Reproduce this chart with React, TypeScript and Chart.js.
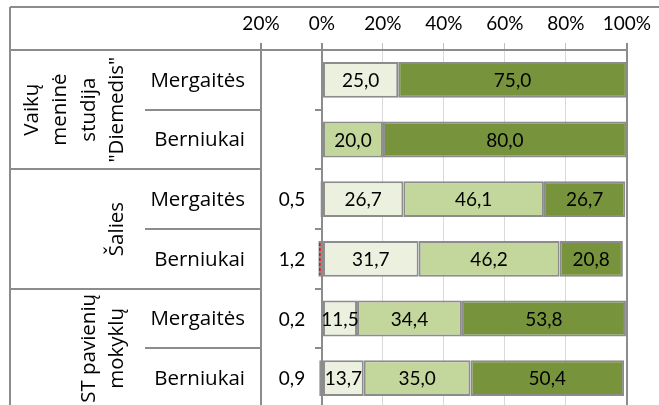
import React, { useEffect, useRef } from "react";
import { Chart, registerables } from "chart.js";

Chart.register(...registerables);

const categories = ["Mergaitės", "Berniukai", "Mergaitės", "Berniukai", "Mergaitės", "Berniukai"];
const groupLabels: string[][] = [
  ["Vaikų", "meninė", "studija", "\"Diemedis\""],
  ["Šalies"],
  ["ST pavienių", "mokyklų"],
];
const groupSizes = [2, 2, 2];

const negativeValues = [0, 0, -0.5, -1.2, -0.2, -0.9];
const lightValues = [25.0, 0, 26.7, 31.7, 11.5, 13.7];
const mediumValues = [0, 20.0, 46.1, 46.2, 34.4, 35.0];
const darkValues = [75.0, 80.0, 26.7, 20.8, 53.8, 50.4];

const xTicks = [-20, 0, 20, 40, 60, 80, 100];

const NUM_FONT = "Lato, 'Open Sans', sans-serif";
const NUM_FS = 19;
const WORD_FONT = "'Open Sans', Lato, sans-serif";
const WORD_FS = 20.5;
const GRAY = "#8c8c8c";

const fmt = (v: number) => Math.abs(v).toFixed(1).replace(".", ",");

const tablePlugin = {
  id: "tablePlugin",
  afterDatasetsDraw(chart: any) {
    const ctx = chart.ctx;
    // red dashed marks inside negative bars
    const meta = chart.getDatasetMeta(0);
    meta.data.forEach((bar: any) => {
      const w = Math.abs(bar.x - bar.base);
      if (w < 2) return;
      const left = Math.min(bar.x, bar.base) + 1.5;
      const top = bar.y - bar.height / 2 + 2;
      const bottom = bar.y + bar.height / 2 - 2;
      ctx.save();
      ctx.strokeStyle = "#ff0000";
      ctx.lineWidth = 1.5;
      ctx.setLineDash([3, 2]);
      ctx.beginPath();
      ctx.moveTo(left, top);
      ctx.lineTo(left, bottom);
      ctx.stroke();
      ctx.restore();
    });
    // value labels inside bars
    ctx.save();
    ctx.font = `${NUM_FS}px ${NUM_FONT}`;
    ctx.fillStyle = "#000";
    ctx.textAlign = "center";
    ctx.textBaseline = "middle";
    for (let d = 1; d < chart.data.datasets.length; d++) {
      const m = chart.getDatasetMeta(d);
      const vals = chart.data.datasets[d].data as number[];
      m.data.forEach((bar: any, i: number) => {
        const v = vals[i];
        if (!v) return;
        ctx.fillText(fmt(v), (bar.x + bar.base) / 2, bar.y + 1);
      });
    }
    ctx.restore();
  },
  afterDraw(chart: any) {
    const ctx = chart.ctx;
    const xs = chart.scales.x;
    const ys = chart.scales.y;
    const area = chart.chartArea;
    const leftX = 10;
    const tableRight = xs.getPixelForValue(-20);
    const zeroX = xs.getPixelForValue(0);
    const n = categories.length;
    const step = (area.bottom - area.top) / n;
    const bound = (i: number) => area.top + step * i;

    ctx.save();
    ctx.strokeStyle = GRAY;
    ctx.lineWidth = 2;
    ctx.beginPath();
    ctx.moveTo(leftX, 7);
    ctx.lineTo(chart.width, 7);
    ctx.moveTo(leftX, 7);
    ctx.lineTo(leftX, chart.height);
    ctx.moveTo(leftX, area.top);
    ctx.lineTo(tableRight, area.top);
    let idx = 0;
    groupSizes.forEach((gs, g) => {
      for (let k = 1; k < gs; k++) {
        const y = Math.round(bound(idx + k));
        ctx.moveTo(145, y);
        ctx.lineTo(tableRight, y);
      }
      idx += gs;
      if (g < groupSizes.length - 1) {
        const y = Math.round(bound(idx));
        ctx.moveTo(leftX, y);
        ctx.lineTo(tableRight, y);
      }
    });
    ctx.stroke();

    ctx.beginPath();
    for (let i = 1; i <= n; i++) {
      const y = Math.round(bound(i));
      ctx.moveTo(zeroX - 7, y);
      ctx.lineTo(zeroX, y);
    }
    ctx.stroke();
    ctx.restore();

    // category labels
    ctx.save();
    ctx.font = `${WORD_FS}px ${WORD_FONT}`;
    ctx.fillStyle = "#000";
    ctx.textAlign = "right";
    ctx.textBaseline = "middle";
    categories.forEach((c, i) => {
      ctx.fillText(c, 245, ys.getPixelForValue(i) + 1);
    });
    ctx.font = `${NUM_FS}px ${NUM_FONT}`;
    negativeValues.forEach((v, i) => {
      if (!v) return;
      ctx.fillText(fmt(v), xs.getPixelForValue(-5.5), ys.getPixelForValue(i) + 1);
    });
    ctx.restore();

    // group labels rotated
    ctx.save();
    ctx.font = `${WORD_FS}px ${WORD_FONT}`;
    ctx.fillStyle = "#000";
    ctx.textAlign = "center";
    ctx.textBaseline = "alphabetic";
    let start = 0;
    groupLabels.forEach((lines, g) => {
      const cy = (bound(start) + bound(start + groupSizes[g])) / 2;
      lines.forEach((line, li) => {
        const bx = 123 - (lines.length - 1 - li) * 28.5;
        ctx.save();
        ctx.translate(bx, cy);
        ctx.rotate(-Math.PI / 2);
        ctx.fillText(line, 0, 0);
        ctx.restore();
      });
      start += groupSizes[g];
    });
    ctx.restore();
  },
};

export default function App() {
  const ref = useRef<HTMLCanvasElement | null>(null);

  useEffect(() => {
    if (!ref.current) return;
    const barCommon = {
      borderColor: GRAY,
      borderWidth: 2,
      borderSkipped: false as const,
      barPercentage: 0.6,
      categoryPercentage: 1.0,
    };
    const chart = new Chart(ref.current, {
      type: "bar",
      data: {
        labels: categories,
        datasets: [
          { label: "neg", data: negativeValues, backgroundColor: "#ffffff", ...barCommon },
          { label: "light", data: lightValues, backgroundColor: "#EBF1DE", ...barCommon },
          { label: "medium", data: mediumValues, backgroundColor: "#C3D69B", ...barCommon },
          { label: "dark", data: darkValues, backgroundColor: "#77933C", ...barCommon },
        ],
      },
      options: {
        indexAxis: "y",
        animation: false,
        responsive: false,
        layout: { padding: { left: 0, right: 32, top: 0, bottom: 0 } },
        plugins: { legend: { display: false }, tooltip: { enabled: false } },
        scales: {
          x: {
            position: "top",
            stacked: true,
            min: -20,
            max: 100,
            afterBuildTicks: (scale: any) => {
              scale.ticks = xTicks.map((v) => ({ value: v }));
            },
            afterFit: (scale: any) => {
              scale.height = 50;
            },
            ticks: {
              callback: (v: any) => Math.abs(Number(v)) + "%",
              font: { family: NUM_FONT, size: NUM_FS },
              color: "#000",
              padding: 8,
              maxRotation: 0,
            },
            grid: {
              color: (c: any) =>
                c.tick && [-20, 0, 100].includes(c.tick.value) ? GRAY : "#d9d9d9",
              lineWidth: (c: any) =>
                c.tick && [-20, 0, 100].includes(c.tick.value) ? 2 : 1,
              tickColor: (c: any) =>
                c.tick && [-20, 0, 100].includes(c.tick.value) ? GRAY : "#bfbfbf",
              tickLength: 7,
            },
            border: { display: true, color: GRAY, width: 2 },
          },
          y: {
            stacked: true,
            afterFit: (scale: any) => {
              scale.width = 261;
            },
            ticks: { display: false },
            grid: { display: false },
            border: { display: false },
          },
        },
      },
      plugins: [tablePlugin],
    } as any);
    return () => chart.destroy();
  }, []);

  return (
    <div
      style={{
        position: "fixed",
        left: 0,
        top: 0,
        width: 659,
        height: 405,
        overflow: "hidden",
        background: "#fff",
      }}
    >
      <canvas ref={ref} width={659} height={408} style={{ display: "block" }} />
    </div>
  );
}
